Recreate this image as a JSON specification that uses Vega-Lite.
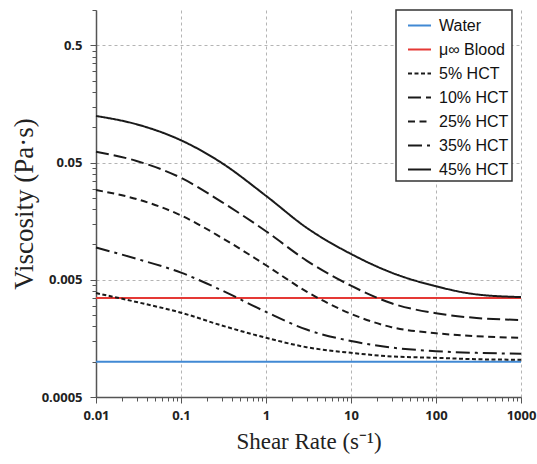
{
  "$schema": "https://vega.github.io/schema/vega-lite/v6.json",
  "width": 425,
  "height": 387,
  "autosize": "none",
  "padding": {"left": 96, "top": 10, "right": 16, "bottom": 67},
  "background": "white",
  "config": {
    "view": {"stroke": null},
    "legend": {"strokeColor": "#333333", "fillColor": "white", "strokeWidth": 1.5}
  },
  "data": {
    "values": [
      {"series": "Water", "rate": 0.01, "visc": 0.001},
      {"series": "Water", "rate": 1000, "visc": 0.001},
      {"series": "μ∞ Blood", "rate": 0.01, "visc": 0.0035},
      {"series": "μ∞ Blood", "rate": 1000, "visc": 0.0035},

      {"series": "5% HCT", "rate": 0.01, "visc": 0.00385},
      {"series": "5% HCT", "rate": 0.03, "visc": 0.00323},
      {"series": "5% HCT", "rate": 0.1, "visc": 0.00262},
      {"series": "5% HCT", "rate": 0.3, "visc": 0.00204},
      {"series": "5% HCT", "rate": 1, "visc": 0.0016},
      {"series": "5% HCT", "rate": 3, "visc": 0.00133},
      {"series": "5% HCT", "rate": 10, "visc": 0.00119},
      {"series": "5% HCT", "rate": 30, "visc": 0.00111},
      {"series": "5% HCT", "rate": 100, "visc": 0.00108},
      {"series": "5% HCT", "rate": 300, "visc": 0.00105},
      {"series": "5% HCT", "rate": 1000, "visc": 0.00104},

      {"series": "10% HCT", "rate": 0.01, "visc": 0.0617},
      {"series": "10% HCT", "rate": 0.03, "visc": 0.0516},
      {"series": "10% HCT", "rate": 0.1, "visc": 0.037},
      {"series": "10% HCT", "rate": 0.3, "visc": 0.0231},
      {"series": "10% HCT", "rate": 1, "visc": 0.01297},
      {"series": "10% HCT", "rate": 3, "visc": 0.00729},
      {"series": "10% HCT", "rate": 10, "visc": 0.00445},
      {"series": "10% HCT", "rate": 30, "visc": 0.00315},
      {"series": "10% HCT", "rate": 100, "visc": 0.00259},
      {"series": "10% HCT", "rate": 300, "visc": 0.00236},
      {"series": "10% HCT", "rate": 1000, "visc": 0.00227},

      {"series": "25% HCT", "rate": 0.01, "visc": 0.0291},
      {"series": "25% HCT", "rate": 0.03, "visc": 0.0244},
      {"series": "25% HCT", "rate": 0.1, "visc": 0.0177},
      {"series": "25% HCT", "rate": 0.3, "visc": 0.01143},
      {"series": "25% HCT", "rate": 1, "visc": 0.00665},
      {"series": "25% HCT", "rate": 3, "visc": 0.00396},
      {"series": "25% HCT", "rate": 10, "visc": 0.00256},
      {"series": "25% HCT", "rate": 30, "visc": 0.00197},
      {"series": "25% HCT", "rate": 100, "visc": 0.00175},
      {"series": "25% HCT", "rate": 300, "visc": 0.00165},
      {"series": "25% HCT", "rate": 1000, "visc": 0.0016},

      {"series": "35% HCT", "rate": 0.01, "visc": 0.00942},
      {"series": "35% HCT", "rate": 0.03, "visc": 0.00755},
      {"series": "35% HCT", "rate": 0.1, "visc": 0.00575},
      {"series": "35% HCT", "rate": 0.3, "visc": 0.00407},
      {"series": "35% HCT", "rate": 1, "visc": 0.00266},
      {"series": "35% HCT", "rate": 3, "visc": 0.00188},
      {"series": "35% HCT", "rate": 10, "visc": 0.0015},
      {"series": "35% HCT", "rate": 30, "visc": 0.00132},
      {"series": "35% HCT", "rate": 100, "visc": 0.00123},
      {"series": "35% HCT", "rate": 300, "visc": 0.00119},
      {"series": "35% HCT", "rate": 1000, "visc": 0.00117},

      {"series": "45% HCT", "rate": 0.01, "visc": 0.1248},
      {"series": "45% HCT", "rate": 0.03, "visc": 0.106},
      {"series": "45% HCT", "rate": 0.1, "visc": 0.0774},
      {"series": "45% HCT", "rate": 0.3, "visc": 0.0497},
      {"series": "45% HCT", "rate": 1, "visc": 0.026},
      {"series": "45% HCT", "rate": 3, "visc": 0.0139},
      {"series": "45% HCT", "rate": 10, "visc": 0.0083},
      {"series": "45% HCT", "rate": 30, "visc": 0.00575},
      {"series": "45% HCT", "rate": 100, "visc": 0.0044},
      {"series": "45% HCT", "rate": 300, "visc": 0.00375},
      {"series": "45% HCT", "rate": 1000, "visc": 0.00356}
    ]
  },
  "mark": {"type": "line", "interpolate": "monotone", "strokeWidth": 2},
  "encoding": {
    "x": {
      "field": "rate",
      "type": "quantitative",
      "scale": {"type": "log", "domain": [0.01, 1000], "nice": false},
      "axis": {
        "values": [0.01, 0.02, 0.03, 0.04, 0.05, 0.06, 0.07, 0.08, 0.09,
                   0.1, 0.2, 0.3, 0.4, 0.5, 0.6, 0.7, 0.8, 0.9,
                   1, 2, 3, 4, 5, 6, 7, 8, 9,
                   10, 20, 30, 40, 50, 60, 70, 80, 90,
                   100, 200, 300, 400, 500, 600, 700, 800, 900, 1000],
        "labelExpr": "indexof([0.01, 0.1, 1, 10, 100, 1000], datum.value) >= 0 ? toString(datum.value) : ''",
        "labelOverlap": false,
        "labelFlush": false,
        "grid": true,
        "gridDash": [3, 3],
        "gridColor": "#b4b4b4",
        "gridOpacity": {"condition": {"test": "indexof([0.01, 0.1, 1, 10, 100, 1000], datum.value) >= 0", "value": 1}, "value": 0},
        "tickSize": {"condition": {"test": "indexof([0.01, 0.1, 1, 10, 100, 1000], datum.value) >= 0", "value": 6}, "value": 4},
        "tickColor": "#555555",
        "domainColor": "#555555",
        "domainWidth": 1.5,
        "labelFont": "Open Sans",
        "labelFontWeight": "bold",
        "labelFontSize": 13,
        "labelColor": "#222222",
        "labelPadding": 6,
        "title": "Shear Rate (s⁻¹)",
        "titleFont": "Liberation Serif",
        "titleFontSize": 23,
        "titleFontWeight": "normal",
        "titleColor": "#222222",
        "titlePadding": 8
      }
    },
    "y": {
      "field": "visc",
      "type": "quantitative",
      "scale": {"type": "log", "domain": [0.0005, 1], "nice": false},
      "axis": {
        "values": [0.0005, 0.001, 0.0015, 0.002, 0.0025, 0.003, 0.0035, 0.004, 0.0045,
                   0.005, 0.01, 0.015, 0.02, 0.025, 0.03, 0.035, 0.04, 0.045,
                   0.05, 0.1, 0.15, 0.2, 0.25, 0.3, 0.35, 0.4, 0.45,
                   0.5, 1],
        "labelExpr": "indexof([0.0005, 0.005, 0.05, 0.5], datum.value) >= 0 ? toString(datum.value) : ''",
        "labelOverlap": false,
        "grid": true,
        "gridDash": [3, 3],
        "gridColor": "#b4b4b4",
        "gridOpacity": {"condition": {"test": "indexof([0.0005, 0.005, 0.05, 0.5], datum.value) >= 0", "value": 1}, "value": 0},
        "tickSize": {"condition": {"test": "indexof([0.0005, 0.005, 0.05, 0.5], datum.value) >= 0", "value": 6}, "value": 4},
        "tickColor": "#555555",
        "domainColor": "#555555",
        "domainWidth": 1.5,
        "labelFont": "Open Sans",
        "labelFontWeight": "bold",
        "labelFontSize": 13,
        "labelColor": "#222222",
        "labelPadding": 8,
        "title": "Viscosity (Pa·s)",
        "titleFont": "Liberation Serif",
        "titleFontSize": 27,
        "titleFontWeight": "normal",
        "titleColor": "#222222",
        "titlePadding": 3
      }
    },
    "color": {
      "field": "series",
      "type": "nominal",
      "scale": {
        "domain": ["Water", "μ∞ Blood", "5% HCT", "10% HCT", "25% HCT", "35% HCT", "45% HCT"],
        "range": ["#4189d4", "#e53935", "#1a1a1a", "#1a1a1a", "#1a1a1a", "#1a1a1a", "#1a1a1a"]
      },
      "legend": {
        "orient": "none",
        "legendX": 300,
        "legendY": 0,
        "title": null,
        "symbolType": "stroke",
        "symbolSize": 529,
        "symbolStrokeWidth": 2,
        "labelFont": "Liberation Sans",
        "labelFontSize": 16,
        "labelColor": "#111111",
        "labelOffset": 7,
        "padding": 3,
        "symbolOffset": 8,
        "rowPadding": 3
      }
    },
    "strokeDash": {
      "field": "series",
      "type": "nominal",
      "scale": {
        "domain": ["Water", "μ∞ Blood", "5% HCT", "10% HCT", "25% HCT", "35% HCT", "45% HCT"],
        "range": [[1, 0], [1, 0], [4, 2.5], [13, 5], [7, 4.5], [14, 5, 3, 5], [1, 0]]
      }
    }
  }
}
